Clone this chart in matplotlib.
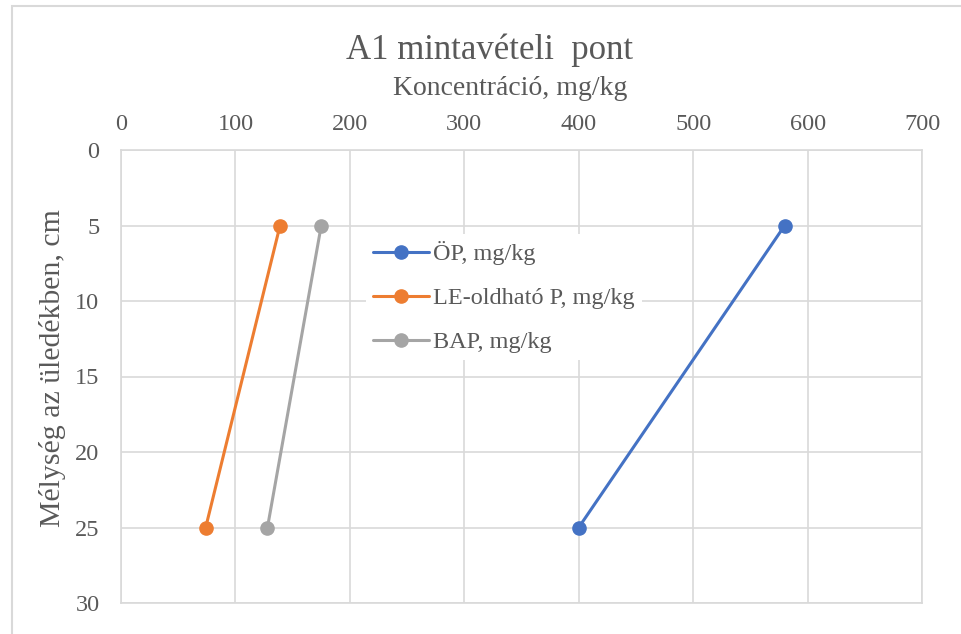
import matplotlib
matplotlib.use("Agg")
import matplotlib.pyplot as plt
from matplotlib.patches import Rectangle

# Depth profile at sampling point A1
depth_cm = [5, 25]
op_total = [580, 400]        # ÖP, mg/kg
le_soluble = [139, 74]       # LE-oldható P, mg/kg
bap = [175, 128]             # BAP, mg/kg

series_labels = ["ÖP, mg/kg", "LE-oldható P, mg/kg", "BAP, mg/kg"]
series_colors = ["#4472C4", "#ED7D31", "#A5A5A5"]

x_ticks = [0, 100, 200, 300, 400, 500, 600, 700]
y_ticks = [0, 5, 10, 15, 20, 25, 30]

plt.rcParams["font.family"] = ["Liberation Serif", "DejaVu Serif"]

W, H = 961, 634
fig = plt.figure(figsize=(W / 100, H / 100), dpi=100)
fig.patch.set_facecolor("white")

# chart-area border
fig.add_artist(Rectangle((12 / W, -0.1), 1.2, 1 - 6 / H + 0.1,
                         transform=fig.transFigure, fill=False,
                         edgecolor="#d9d9d9", linewidth=1.5))

left, right, top, bottom = 121, 922, 150, 603
ax = fig.add_axes([left / W, 1 - bottom / H, (right - left) / W, (bottom - top) / H])

for vals, lab, col in zip([op_total, le_soluble, bap], series_labels, series_colors):
    ax.plot(vals, depth_cm, color=col, linewidth=2.2, marker="o",
            markersize=9.5, label=lab, solid_capstyle="round", zorder=3)

ax.set_xlim(0, 700)
ax.set_ylim(30, 0)
ax.set_xticks(x_ticks)
ax.set_yticks(y_ticks)
ax.xaxis.tick_top()
ax.grid(True, color="#d9d9d9", linewidth=1.2, zorder=0)
ax.set_axisbelow(True)
for s in ax.spines.values():
    s.set_color("#d9d9d9")
    s.set_linewidth(1.2)
ax.tick_params(axis="both", length=0, labelsize=17.5, colors="#595959")
ax.tick_params(axis="x", pad=11)
ax.tick_params(axis="y", pad=15.5)

fig.text(52 / W, 1 - 368 / H, "Mélység az üledékben, cm", rotation=90,
         ha="center", va="center", fontsize=21.5, color="#595959")
fig.text(510 / W, 1 - 95 / H, "Koncentráció, mg/kg", ha="center", va="baseline",
         fontsize=20, color="#595959")
fig.text(490 / W, 1 - 59 / H, "A1 mintavételi  pont", ha="center", va="baseline",
         fontsize=25, color="#595959")

leg = ax.legend(loc="upper left", bbox_to_anchor=((366 - left) / (right - left),
                                                  1 - (234 - top) / (bottom - top)),
                frameon=True, fontsize=17.5, handlelength=2.3, handletextpad=0.15,
                labelspacing=0.9, borderpad=0.3, borderaxespad=0)
leg.get_frame().set_facecolor("white")
leg.get_frame().set_edgecolor("none")
leg.get_frame().set_alpha(1)
for t in leg.get_texts():
    t.set_color("#595959")

fig.savefig("out.png", dpi=100)
